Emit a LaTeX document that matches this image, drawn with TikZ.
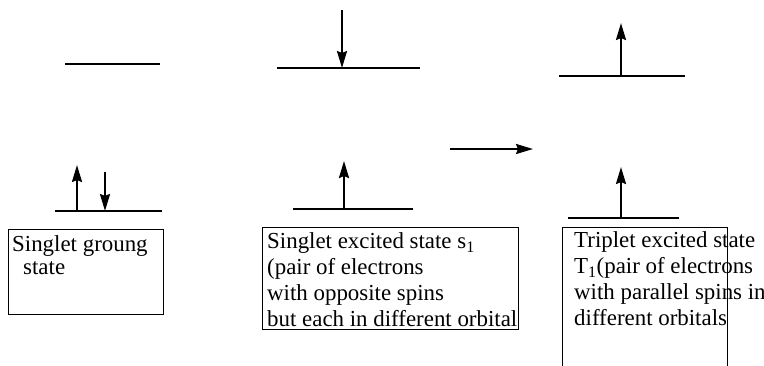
\documentclass[tikz,border=0pt]{standalone}
\usepackage{fontspec}
\setmainfont{Liberation Serif}
\usepackage{tikz}
\usetikzlibrary{arrows.meta,positioning}

\begin{document}
\begin{tikzpicture}[x=1pt,y=-1pt,
    level/.style={line width=2.2pt},
    spin/.style={line width=2.2pt,-{Stealth[length=17pt,width=10pt,inset=2pt]}},
    statebox/.style={draw,line width=1.4pt,anchor=north west,inner sep=0pt},
    statetext/.style={anchor=base west,align=left,inner sep=0pt,
      font=\fontsize{22.9}{25.7}\selectfont}]
      \useasboundingbox (0,0) rectangle (764,365);
      \clip (0,0) rectangle (764,365);
      % singlet ground state
      \coordinate (gUL) at (65,64);   \coordinate (gUR) at (160,64);
      \coordinate (gLL) at (55,211);  \coordinate (gLR) at (162,211);
      \coordinate (gUp) at (77,165);  \coordinate (gUpB) at (77,211);
      \coordinate (gDn) at (105,172); \coordinate (gDnB) at (105,211);
      \draw[level] (gUL) -- (gUR);
      \draw[level] (gLL) -- (gLR);
      \draw[spin] (gUpB) -- (gUp);
      \draw[spin] (gDn) -- (gDnB);
      \node[statebox,minimum width=155,minimum height=85] (gbox) at (8,229) {};
      \node[statetext,font=\fontsize{22.9}{23}\selectfont] (gtext) at (12,274)
        {Singlet groung\\\hspace*{11pt}state};
      % singlet excited state
      \coordinate (sUL) at (277,68);  \coordinate (sUR) at (420,68);
      \coordinate (sLL) at (293,209); \coordinate (sLR) at (413,209);
      \coordinate (sDn) at (342,10);  \coordinate (sDnB) at (342,68);
      \coordinate (sUp) at (344,161); \coordinate (sUpB) at (344,209);
      \draw[level] (sUL) -- (sUR);
      \draw[level] (sLL) -- (sLR);
      \draw[spin] (sDn) -- (sDnB);
      \draw[spin] (sUpB) -- (sUp);
      \node[statebox,minimum width=256,minimum height=102] (sbox) at (262,227) {};
      \node[statetext] (stext) at (267,326)
        {Singlet excited state s\textsubscript{1}\\(pair of electrons\\with opposite spins\\but each in different orbital};
      % intersystem crossing
      \coordinate (isc1) at (450,149); \coordinate (isc2) at (533,149);
      \draw[spin] (isc1) -- (isc2);
      % triplet excited state
      \coordinate (tUL) at (559,76);  \coordinate (tUR) at (685,76);
      \coordinate (tLL) at (568,218); \coordinate (tLR) at (679,218);
      \coordinate (tUp) at (621,23);  \coordinate (tUpB) at (621,76);
      \coordinate (tUp2) at (621,167); \coordinate (tUp2B) at (621,218);
      \draw[level] (tUL) -- (tUR);
      \draw[level] (tLL) -- (tLR);
      \draw[spin] (tUpB) -- (tUp);
      \draw[spin] (tUp2B) -- (tUp2);
      \node[statebox,minimum width=165,minimum height=150] (tbox) at (562,227) {};
      \node[statetext] (ttext) at (574,325)
        {Triplet excited state\\T\textsubscript{1}(pair of electrons\\with parallel spins in\\different orbitals};
    \end{tikzpicture}
\end{document}
